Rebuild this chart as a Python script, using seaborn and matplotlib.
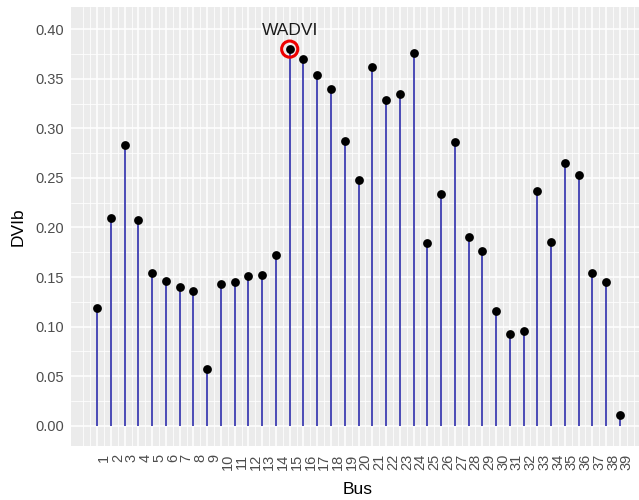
import numpy as np
import pandas as pd
import matplotlib
matplotlib.use("Agg")
import matplotlib.pyplot as plt
import seaborn as sns
from matplotlib.ticker import FixedLocator

# ---- data ----
bus = list(range(1, 40))
dvib = [0.119, 0.210, 0.283, 0.208, 0.154, 0.146, 0.140, 0.136, 0.057, 0.143,
        0.145, 0.151, 0.152, 0.172, 0.380, 0.370, 0.354, 0.340, 0.287, 0.248,
        0.362, 0.329, 0.335, 0.376, 0.184, 0.234, 0.286, 0.190, 0.176, 0.116,
        0.093, 0.096, 0.237, 0.185, 0.265, 0.253, 0.154, 0.145, 0.011]
highlight_bus = 15
highlight_label = "WADVI"
y_ticks = [0.00, 0.05, 0.10, 0.15, 0.20, 0.25, 0.30, 0.35, 0.40]
x_title = "Bus"
y_title = "DVIb"

df = pd.DataFrame({"Bus": bus, "DVIb": dvib})

sns.set_theme(style="darkgrid")
plt.rcParams["font.family"] = ["Liberation Sans", "DejaVu Sans"]

fig = plt.figure(figsize=(6.39, 5.0), dpi=100)
W, H = 639, 500
left, right, top, bottom = 71, 646, 7, 446
ax = fig.add_axes([left / W, (H - bottom) / H, (right - left) / W, (bottom - top) / H])
ax.set_facecolor("#EBEBEB")
for s in ax.spines.values():
    s.set_visible(False)

# segments
ax.vlines(df["Bus"], 0, df["DVIb"], color="#2323a6", lw=1.15, zorder=2)
# points
sns.scatterplot(data=df, x="Bus", y="DVIb", color="black", s=40, linewidth=0,
                zorder=3, ax=ax, legend=False)
# highlight
hv = df.loc[df["Bus"] == highlight_bus, "DVIb"].iloc[0]
ax.scatter([highlight_bus], [hv], s=135, facecolors="none", edgecolors="#EE0000",
           linewidths=2.2, zorder=4)
ax.text(highlight_bus, 0.3992, highlight_label, ha="center", va="center",
        fontsize=12.5, color="#1a1a1a", zorder=5)

ax.set_xlim(-0.9, 40.9)
ax.set_ylim(-0.0205, 0.4225)

ax.set_xticks(bus)
ax.set_xticklabels([str(b) for b in bus], rotation=90, ha="left", va="top")
ax.set_yticks(y_ticks)
ax.set_yticklabels([f"{v:.2f}" for v in y_ticks])
ax.xaxis.set_minor_locator(FixedLocator(np.arange(0, 40.01, 0.5)))
ax.yaxis.set_minor_locator(FixedLocator(np.arange(0.025, 0.42, 0.05)))

ax.grid(which="major", color="white", lw=1.1)
ax.grid(which="minor", color="white", lw=0.55)
ax.set_axisbelow(True)

ax.tick_params(which="major", length=3.2, width=0.8, color="#333333",
               labelcolor="#4D4D4D", labelsize=10.5, pad=2)
ax.tick_params(which="minor", length=0)
ax.tick_params(axis="x", pad=2.5)

ax.set_xlabel(x_title, fontsize=12.5, color="black", va="center")
ax.set_ylabel(y_title, fontsize=12.5, color="black", va="center")
ax.xaxis.set_label_coords((358 - left) / (right - left), -(490 - bottom) / (bottom - top))
ax.yaxis.set_label_coords(-(left - 18) / (right - left), (bottom - 227) / (bottom - top))

fig.savefig("out.png", dpi=100)
